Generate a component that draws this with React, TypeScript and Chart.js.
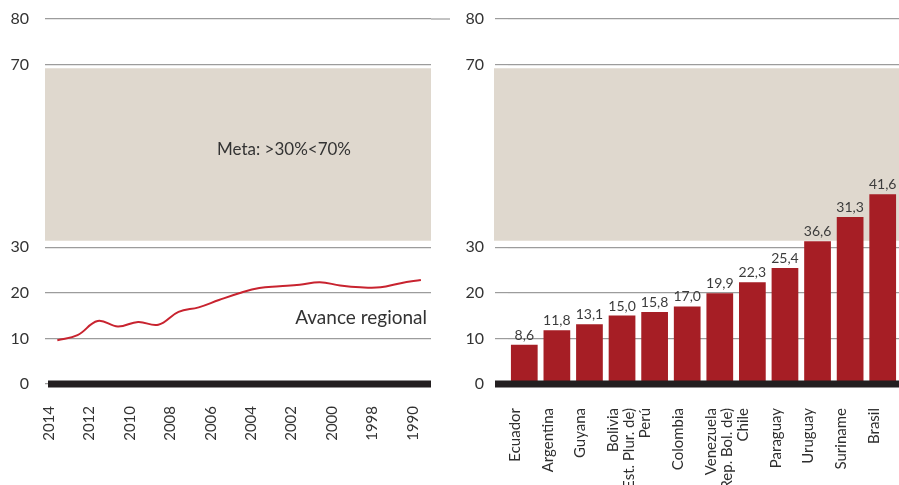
import React, { useEffect, useRef } from "react";
import { Chart, registerables } from "chart.js";
Chart.register(...registerables);

// ---- Data ----
const yearLabels = ["2014", "2012", "2010", "2008", "2006", "2004", "2002", "2000", "1998", "1990"];
const regionalValues = [9.6, 10.7, 13.8, 12.6, 13.6, 13.0, 15.8, 16.8, 18.4, 19.9, 21.05, 21.4, 21.75, 22.3, 21.6, 21.2, 21.2, 22.1, 22.8];
const countries: (string | string[])[] = [
  "Ecuador", "Argentina", "Guyana", ["Bolivia", "(Est. Plur. de)"], "Perú", "Colombia",
  ["Venezuela", "Rep. Bol. de)"], "Chile", "Paraguay", "Uruguay", "Suriname", "Brasil",
];
const countryValues = [8.6, 11.8, 13.1, 15.0, 15.8, 17.0, 19.9, 22.3, 25.4, 31.3, 36.6, 41.6];
const countryValueLabels = ["8,6", "11,8", "13,1", "15,0", "15,8", "17,0", "19,9", "22,3", "25,4", "36,6", "31,3", "41,6"];
const yTicks = [0, 10, 20, 30, 70, 80];
const goalBand = [31.4, 69.2];
const goalText = "Meta: >30%<70%";
const lineLabel = "Avance regional";

// ---- Styles ----
const FONT = "Lato";
const TEXT = "#333333";
const GRID = "#9c9c9c";
const BAND = "#dfd8ce";
const BASE = "#231f20";
const BAR = "#a61e25";
const LINE = "#c8232f";

const decorPlugin = {
  id: "decor",
  beforeDatasetsDraw(chart: any, _a: any, opts: any) {
    const { ctx, chartArea, scales } = chart;
    const y = scales.y;
    ctx.save();
    const x0 = chartArea.left - (opts.bandExtendLeft || 0);
    const yTop = y.getPixelForValue(goalBand[1]);
    const yBot = y.getPixelForValue(goalBand[0]);
    ctx.fillStyle = BAND;
    ctx.fillRect(x0, yTop, chartArea.right - x0, yBot - yTop);
    if (opts.extendTop) {
      const yy = y.getPixelForValue(80);
      ctx.strokeStyle = GRID;
      ctx.lineWidth = 1.2;
      ctx.beginPath();
      ctx.moveTo(chartArea.right, yy);
      ctx.lineTo(chart.width, yy);
      ctx.stroke();
    }
    if (opts.goalText) {
      ctx.fillStyle = TEXT;
      ctx.font = `17px ${FONT}`;
      ctx.textAlign = "left";
      ctx.textBaseline = "alphabetic";
      ctx.fillText(goalText, chartArea.left + 172, y.getPixelForValue(50.2));
    }
    ctx.restore();
  },
  afterDatasetsDraw(chart: any, _a: any, opts: any) {
    const { ctx, chartArea, scales } = chart;
    const y = scales.y;
    ctx.save();
    const y0 = y.getPixelForValue(0);
    const bx0 = chartArea.left + (opts.baseOffsetLeft || 0);
    ctx.fillStyle = BASE;
    ctx.fillRect(bx0, y0 - 3.5, chartArea.right - bx0, 7);
    if (opts.lineLabel) {
      ctx.fillStyle = TEXT;
      ctx.font = `19px ${FONT}`;
      ctx.textAlign = "right";
      ctx.textBaseline = "alphabetic";
      ctx.fillText(lineLabel, chartArea.right - 4, y.getPixelForValue(13.1));
    }
    if (opts.barLabels) {
      const meta = chart.getDatasetMeta(0);
      ctx.fillStyle = "#3c3c3c";
      ctx.font = `14px ${FONT}`;
      ctx.textAlign = "center";
      ctx.textBaseline = "alphabetic";
      meta.data.forEach((el: any, i: number) => {
        ctx.fillText(countryValueLabels[i], el.x, el.y - 5);
      });
    }
    ctx.restore();
  },
};

function yScale(width: number, tickLength: number, padding: number) {
  return {
    min: 0,
    max: 80,
    afterBuildTicks: (s: any) => {
      s.ticks = yTicks.map((v) => ({ value: v }));
    },
    afterFit: (s: any) => {
      s.width = width;
      s.paddingTop = 0;
      s.paddingBottom = 0;
    },
    ticks: {
      padding,
      color: TEXT,
      font: { family: FONT, size: 16 },
      callback: (v: any) => String(v),
    },
    grid: {
      color: GRID,
      lineWidth: 1.2,
      drawTicks: tickLength > 0,
      tickLength,
      tickColor: GRID,
      tickWidth: 1.2,
    },
    border: { display: false },
  };
}

export default function App() {
  const leftRef = useRef<HTMLCanvasElement>(null);
  const rightRef = useRef<HTMLCanvasElement>(null);

  useEffect(() => {
    const left = new Chart(leftRef.current!, {
      type: "line",
      data: {
        datasets: [
          {
            data: regionalValues.map((v, k) => ({ x: k, y: v })),
            borderColor: LINE,
            borderWidth: 2,
            pointRadius: 0,
            tension: 0.4,
            fill: false,
          },
        ],
      },
      options: {
        animation: false,
        responsive: false,
        layout: { padding: { top: 19, right: 19, bottom: 0, left: 0 } },
        plugins: {
          legend: { display: false },
          tooltip: { enabled: false },
          decor: { extendTop: true, goalText: true, lineLabel: true, baseOffsetLeft: 3 },
        } as any,
        scales: {
          x: {
            type: "linear",
            min: -0.61,
            max: 18.5,
            afterBuildTicks: (s: any) => {
              s.ticks = yearLabels.map((_, i) => ({ value: 2 * i - 0.4 }));
            },
            afterFit: (s: any) => {
              s.height = 101;
              s.paddingLeft = 0;
              s.paddingRight = 0;
            },
            ticks: {
              autoSkip: false,
              maxRotation: 90,
              minRotation: 90,
              padding: 14,
              color: TEXT,
              font: { family: FONT, size: 15 },
              callback: (_v: any, i: number) => yearLabels[i],
            },
            grid: { display: false },
            border: { display: false },
          },
          y: yScale(45, 0, 16) as any,
        },
      },
      plugins: [decorPlugin],
    });

    const right = new Chart(rightRef.current!, {
      type: "bar",
      data: {
        labels: countries as any,
        datasets: [
          {
            data: countryValues,
            backgroundColor: BAR,
            barPercentage: 0.82,
            categoryPercentage: 1,
          },
        ],
      },
      options: {
        animation: false,
        responsive: false,
        layout: { padding: { top: 19, right: 0, bottom: 0, left: 0 } },
        plugins: {
          legend: { display: false },
          tooltip: { enabled: false },
          decor: { bandExtendLeft: 14, baseOffsetLeft: -13, barLabels: true },
        } as any,
        scales: {
          x: {
            afterFit: (s: any) => {
              s.height = 101;
              s.paddingLeft = 0;
              s.paddingRight = 0;
            },
            ticks: {
              autoSkip: false,
              maxRotation: 90,
              minRotation: 90,
              padding: 16,
              labelOffset: -9,
              color: "#2e2e2e",
              font: { family: FONT, size: 15, lineHeight: 1.1 },
            },
            grid: { display: false },
            border: { display: false },
          },
          y: yScale(58, 13, 11) as any,
        },
      },
      plugins: [decorPlugin],
    });

    return () => {
      left.destroy();
      right.destroy();
    };
  }, []);

  return (
    <div style={{ position: "fixed", left: 0, top: 0, width: 899, height: 485, background: "#fff" }}>
      <canvas ref={leftRef} width={450} height={485} style={{ position: "absolute", left: 0, top: 0 }} />
      <canvas ref={rightRef} width={449} height={485} style={{ position: "absolute", left: 450, top: 0 }} />
    </div>
  );
}
